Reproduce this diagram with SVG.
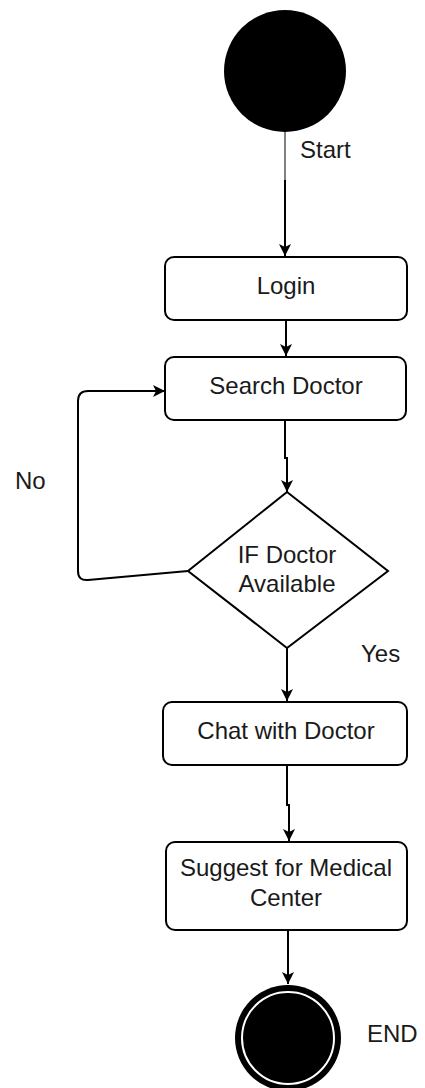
<svg xmlns="http://www.w3.org/2000/svg" width="425" height="1088" viewBox="0 0 425 1088">
  <style>
    .box { fill: #ffffff; stroke: #000000; stroke-width: 2; }
    .lbl { font-family: "Liberation Sans", Arial, sans-serif; font-size: 24px; fill: #1a1a1a; }
    .mid { text-anchor: middle; }
    .edge { fill: none; stroke: #000000; stroke-width: 2; }
  </style>
  <defs>
    <marker id="arrow" viewBox="0 0 12 12" refX="12" refY="6" markerWidth="12" markerHeight="12" markerUnits="userSpaceOnUse" orient="auto">
      <path d="M0,0 L12,6 L0,12 L3,6 Z" fill="#000000"/>
    </marker>
  </defs>
  <rect width="425" height="1088" fill="#ffffff"/>

  <g id="connectors">
    <path class="edge" d="M285,132 V180" style="stroke:#808080"/>
    <path class="edge" d="M285,180 V256" marker-end="url(#arrow)"/>
    <path class="edge" d="M286,320 V356" marker-end="url(#arrow)"/>
    <path class="edge" d="M285,420 V458 H287 V492" marker-end="url(#arrow)"/>
    <path class="edge" d="M188,571 L88,580 Q78,581 78,571 V401 Q78,391 88,391 H165" marker-end="url(#arrow)"/>
    <path class="edge" d="M287,648 V701" marker-end="url(#arrow)"/>
    <path class="edge" d="M287,765 V805 H289 V841" marker-end="url(#arrow)"/>
    <path class="edge" d="M288,930 V984" marker-end="url(#arrow)"/>
  </g>

  <g id="start">
    <circle cx="285" cy="71" r="61" fill="#000000"/>
    <text class="lbl" x="300" y="158">Start</text>
  </g>

  <g id="login">
    <rect class="box" x="165" y="257" width="242" height="63" rx="9"/>
    <text class="lbl mid" x="286" y="294">Login</text>
  </g>

  <g id="search">
    <rect class="box" x="165" y="357" width="241" height="63" rx="9"/>
    <text class="lbl mid" x="286" y="394">Search Doctor</text>
  </g>

  <g id="decision">
    <polygon class="box" points="287,492 388,571 287,648 188,571"/>
    <text class="lbl mid" x="287" y="563">IF Doctor</text>
    <text class="lbl mid" x="287" y="592">Available</text>
  </g>

  <g id="edge-labels">
    <text class="lbl" x="15" y="489">No</text>
    <text class="lbl" x="361" y="662">Yes</text>
  </g>

  <g id="chat">
    <rect class="box" x="163" y="702" width="244" height="63" rx="9"/>
    <text class="lbl mid" x="286" y="739">Chat with Doctor</text>
  </g>

  <g id="suggest">
    <rect class="box" x="166" y="842" width="241" height="88" rx="9"/>
    <text class="lbl mid" x="286" y="876">Suggest for Medical</text>
    <text class="lbl mid" x="286" y="906">Center</text>
  </g>

  <g id="end">
    <circle cx="288" cy="1038" r="53" fill="#000000"/>
    <circle cx="288" cy="1038" r="46" fill="#000000" stroke="#ffffff" stroke-width="2"/>
    <text class="lbl" x="367" y="1042">END</text>
  </g>
</svg>
